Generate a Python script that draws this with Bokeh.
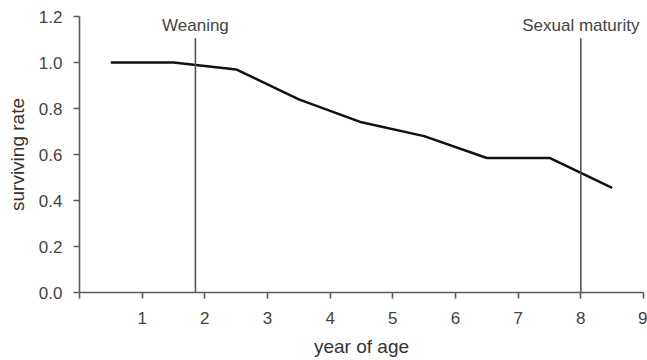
from bokeh.plotting import figure
from bokeh.models import Range1d, FixedTicker, ColumnDataSource
from bokeh.core.properties import value
from bokeh.embed import file_html
from bokeh.resources import INLINE

# data
age = [0.5, 1.5, 2.5, 3.5, 4.5, 5.5, 6.5, 7.5, 8.5]
surviving_rate = [1.0, 1.0, 0.97, 0.84, 0.74, 0.68, 0.585, 0.585, 0.455]
event_age = [1.85, 8.0]
event_name = ["Weaning", "Sexual maturity"]
x_ticks = [0, 1, 2, 3, 4, 5, 6, 7, 8, 9]
x_tick_labels = ["", "1", "2", "3", "4", "5", "6", "7", "8", "9"]
y_ticks = [0.0, 0.2, 0.4, 0.6, 0.8, 1.0, 1.2]
y_tick_labels = ["0.0", "0.2", "0.4", "0.6", "0.8", "1.0", "1.2"]

FONT = "Liberation Sans"
AX = "#5a5a5a"
TXT = "#444444"

p = figure(width=647, height=360, output_backend="svg", toolbar_location=None,
           x_range=Range1d(0, 9), y_range=Range1d(0, 1.2),
           min_border_left=79, min_border_right=4, min_border_top=16, min_border_bottom=68)
p.outline_line_color = None
p.grid.visible = False
p.background_fill_color = "white"
p.border_fill_color = "white"

p.xaxis.ticker = FixedTicker(ticks=x_ticks)
p.xaxis.major_label_overrides = {t: l for t, l in zip(x_ticks, x_tick_labels)}
p.yaxis.ticker = FixedTicker(ticks=y_ticks)
p.yaxis.major_label_overrides = {t: l for t, l in zip(y_ticks, y_tick_labels)}

for ax in (p.xaxis[0], p.yaxis[0]):
    ax.axis_line_color = AX
    ax.axis_line_width = 1.6
    ax.major_tick_line_color = AX
    ax.major_tick_line_width = 1.6
    ax.major_tick_in = 0
    ax.major_tick_out = 6
    ax.minor_tick_line_color = None
    ax.major_label_text_font = FONT
    ax.major_label_text_font_size = "17px"
    ax.major_label_text_color = TXT
    ax.axis_label_text_font = FONT
    ax.axis_label_text_font_size = "19px"
    ax.axis_label_text_font_style = "normal"
    ax.axis_label_text_color = "#333333"

p.xaxis.axis_label = "year of age"
p.yaxis.axis_label = "surviving rate"
p.xaxis.major_label_standoff = 13
p.xaxis.axis_label_standoff = 9
p.yaxis.major_label_standoff = 11
p.yaxis.axis_label_standoff = 8

src = ColumnDataSource(dict(x=age, y=surviving_rate))
p.line("x", "y", source=src, line_color="#111111", line_width=2.5)

ev = ColumnDataSource(dict(x=event_age, y0=[0.0] * len(event_age),
                           y1=[1.105] * len(event_age), y_text=[1.16] * len(event_age),
                           name=event_name))
p.segment(x0="x", y0="y0", x1="x", y1="y1", source=ev, line_color="#555555", line_width=1.6)
p.text(x="x", y="y_text", text="name", source=ev, text_align="center",
       text_baseline="middle", text_font=value(FONT), text_font_size="17px",
       text_color=TXT)

open("out.html", "w").write(file_html(p, INLINE))
